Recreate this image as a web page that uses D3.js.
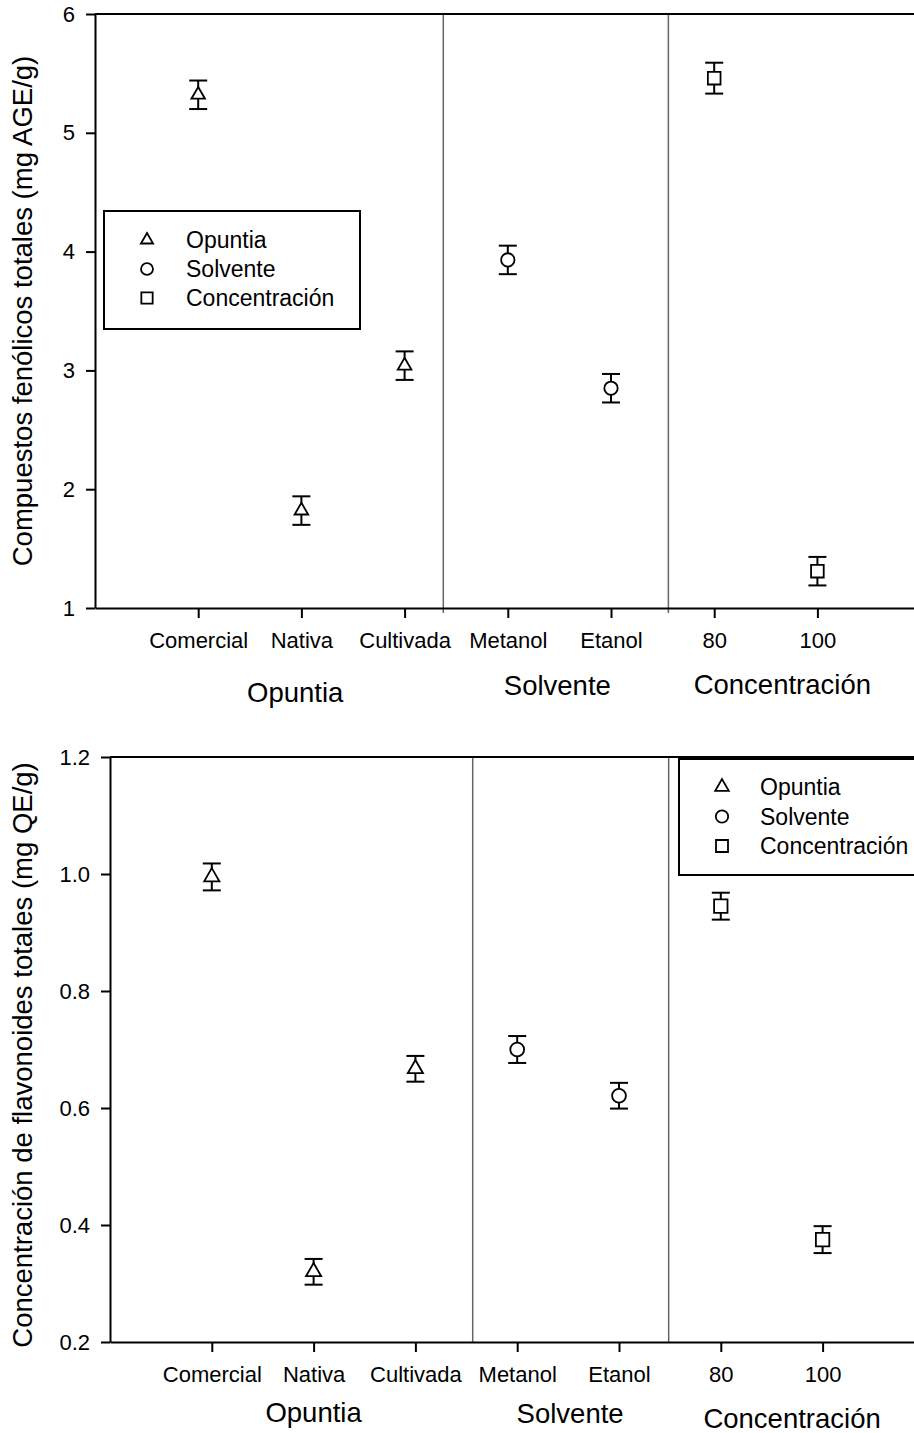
<!DOCTYPE html>
<html>
<head>
<meta charset="utf-8">
<script src="https://cdn.jsdelivr.net/npm/d3@7"></script>
<style>
  body { margin: 0; background: #fff; }
  svg { display: block; }
  text { font-family: "Liberation Sans", Arial, sans-serif; fill: #000; }
</style>
</head>
<body>
<div id="chart"></div>
<script>
// categories and groups (shared by both panels)
var categories = ["Comercial", "Nativa", "Cultivada", "Metanol", "Etanol", "80", "100"];
var groupOf = ["Opuntia", "Opuntia", "Opuntia", "Solvente", "Solvente", "Concentración", "Concentración"];
var groupNames = ["Opuntia", "Solvente", "Concentración"];

// top panel: total phenolics
var phenolMeans = [5.32, 1.82, 3.04, 3.93, 2.85, 5.46, 1.31];
var phenolErrors = [0.12, 0.12, 0.12, 0.12, 0.12, 0.13, 0.12];
var phenolTicks = [1, 2, 3, 4, 5, 6];

// bottom panel: total flavonoids
var flavMeans = [0.995, 0.32, 0.667, 0.70, 0.621, 0.945, 0.375];
var flavErrors = [0.023, 0.022, 0.022, 0.023, 0.022, 0.023, 0.023];
var flavTicks = [0.2, 0.4, 0.6, 0.8, 1.0, 1.2];

var width = 914, height = 1433;

var svg = d3.select("#chart")
            .append("svg")
            .attr("width", width)
            .attr("height", height);

// one marker shape per group
var shapeFor = {
  "Opuntia": d3.symbolTriangle,
  "Solvente": d3.symbolCircle,
  "Concentración": d3.symbolSquare
};

function drawPanel(p) {
  var g = svg.append("g");

  var x = d3.scaleLinear()
            .domain([-1, 7])
            .range([p.left, p.left + 8 * p.step]);

  var y = d3.scaleLinear()
            .domain(d3.extent(p.ticks))
            .range([p.bottom, p.top]);

  var sizes = {"Opuntia": p.triSize, "Solvente": p.circSize, "Concentración": p.sqSize};

  // group separators
  g.selectAll(".sep")
   .data(p.separators)
   .enter()
   .append("line")
   .attr("class", "sep")
   .attr("x1", function(d) { return x(d); })
   .attr("x2", function(d) { return x(d); })
   .attr("y1", p.top)
   .attr("y2", p.bottom + p.sepExtra)
   .style("stroke", "#666")
   .style("stroke-width", 1.5);

  // top frame line
  g.append("line")
   .attr("x1", p.left)
   .attr("x2", width)
   .attr("y1", p.top)
   .attr("y2", p.top)
   .style("stroke", "#000")
   .style("stroke-width", 2);

  // y axis
  var yAxis = g.append("g")
               .attr("transform", "translate(" + p.left + ",0)")
               .call(d3.axisLeft(y)
                       .tickValues(p.ticks)
                       .tickFormat(p.format)
                       .tickSize(9)
                       .tickSizeOuter(0)
                       .tickPadding(11));

  // x axis
  var xAxis = g.append("g")
               .attr("transform", "translate(0," + p.bottom + ")")
               .call(d3.axisBottom(x)
                       .tickValues(d3.range(categories.length))
                       .tickFormat(function(i) { return categories[i]; })
                       .tickSize(10)
                       .tickSizeOuter(0)
                       .tickPadding(14));

  [yAxis, xAxis].forEach(function(a) {
    a.selectAll("path, line").style("stroke", "#000").style("stroke-width", 2);
    a.selectAll("text").style("font-size", "22px")
     .style("font-family", "'Liberation Sans', Arial, sans-serif");
  });

  // y label
  g.append("text")
   .attr("transform", "translate(" + p.yLabelX + "," + p.yLabelY + ") rotate(-90)")
   .style("text-anchor", "middle")
   .style("font-size", "27.5px")
   .text(p.yLabel);

  // group labels
  g.selectAll(".grp")
   .data(groupNames)
   .enter()
   .append("text")
   .attr("class", "grp")
   .attr("x", function(d, i) { return x(p.groupAt[i]); })
   .attr("y", function(d, i) { return p.bottom + p.groupDy[i]; })
   .style("text-anchor", "middle")
   .style("font-size", "27.5px")
   .text(function(d) { return d; });

  var pts = categories.map(function(c, i) {
    return {i: i, grp: groupOf[i], mean: p.means[i], err: p.errors[i]};
  });

  // error bars
  var eb = g.selectAll(".eb")
            .data(pts)
            .enter()
            .append("g")
            .attr("class", "eb")
            .style("stroke", "#000")
            .style("stroke-width", 2);

  eb.append("line")
    .attr("x1", function(d) { return x(d.i); })
    .attr("x2", function(d) { return x(d.i); })
    .attr("y1", function(d) { return y(d.mean + d.err); })
    .attr("y2", function(d) { return y(d.mean - d.err); });

  [1, -1].forEach(function(s) {
    eb.append("line")
      .attr("x1", function(d) { return x(d.i) - 9; })
      .attr("x2", function(d) { return x(d.i) + 9; })
      .attr("y1", function(d) { return y(d.mean + s * d.err); })
      .attr("y2", function(d) { return y(d.mean + s * d.err); });
  });

  // markers
  g.selectAll(".pt")
   .data(pts)
   .enter()
   .append("path")
   .attr("class", "pt")
   .attr("transform", function(d) { return "translate(" + x(d.i) + "," + y(d.mean) + ")"; })
   .attr("d", function(d) { return d3.symbol().type(shapeFor[d.grp]).size(sizes[d.grp])(); })
   .style("fill", "#fff")
   .style("stroke", "#000")
   .style("stroke-width", 1.8);

  // legend
  var lg = g.append("g");
  lg.append("rect")
    .attr("x", p.legend.x)
    .attr("y", p.legend.y)
    .attr("width", p.legend.w)
    .attr("height", p.legend.h)
    .style("fill", "#fff")
    .style("stroke", "#000")
    .style("stroke-width", 2);

  var rows = lg.selectAll(".lrow")
               .data(groupNames)
               .enter()
               .append("g")
               .attr("class", "lrow")
               .attr("transform", function(d, i) {
                 return "translate(" + p.legend.symX + "," + (p.legend.row0 + i * p.legend.rowStep) + ")";
               });

  rows.append("path")
      .attr("d", function(d) { return d3.symbol().type(shapeFor[d]).size(sizes[d] * 0.8)(); })
      .style("fill", "#fff")
      .style("stroke", "#000")
      .style("stroke-width", 1.8);

  rows.append("text")
      .attr("x", p.legend.textDx)
      .attr("dy", "0.35em")
      .style("font-size", "23px")
      .text(function(d) { return d; });
}

drawPanel({
  left: 95, step: 103.2, top: 14, bottom: 608,
  ticks: phenolTicks, format: d3.format("d"),
  means: phenolMeans, errors: phenolErrors,
  separators: [2.375, 4.556], sepExtra: 5,
  triSize: 80, circSize: 140, sqSize: 160,
  yLabel: "Compuestos fenólicos totales (mg AGE/g)", yLabelX: 32, yLabelY: 311,
  groupAt: [0.94, 3.48, 5.66], groupDy: [94, 87, 86],
  legend: {x: 104, y: 211, w: 256, h: 118, symX: 147, textDx: 39, row0: 240, rowStep: 29}
});

drawPanel({
  left: 110, step: 101.8, top: 757, bottom: 1342,
  ticks: flavTicks, format: d3.format(".1f"),
  means: flavMeans, errors: flavErrors,
  separators: [2.563, 4.488], sepExtra: 0,
  triSize: 100, circSize: 150, sqSize: 180,
  yLabel: "Concentración de flavonoides totales (mg QE/g)", yLabelX: 32, yLabelY: 1055,
  groupAt: [1.0, 3.52, 5.70], groupDy: [80, 81, 86],
  legend: {x: 679, y: 759, w: 300, h: 116, symX: 722, textDx: 38, row0: 787, rowStep: 29.5}
});
</script>
</body>
</html>
